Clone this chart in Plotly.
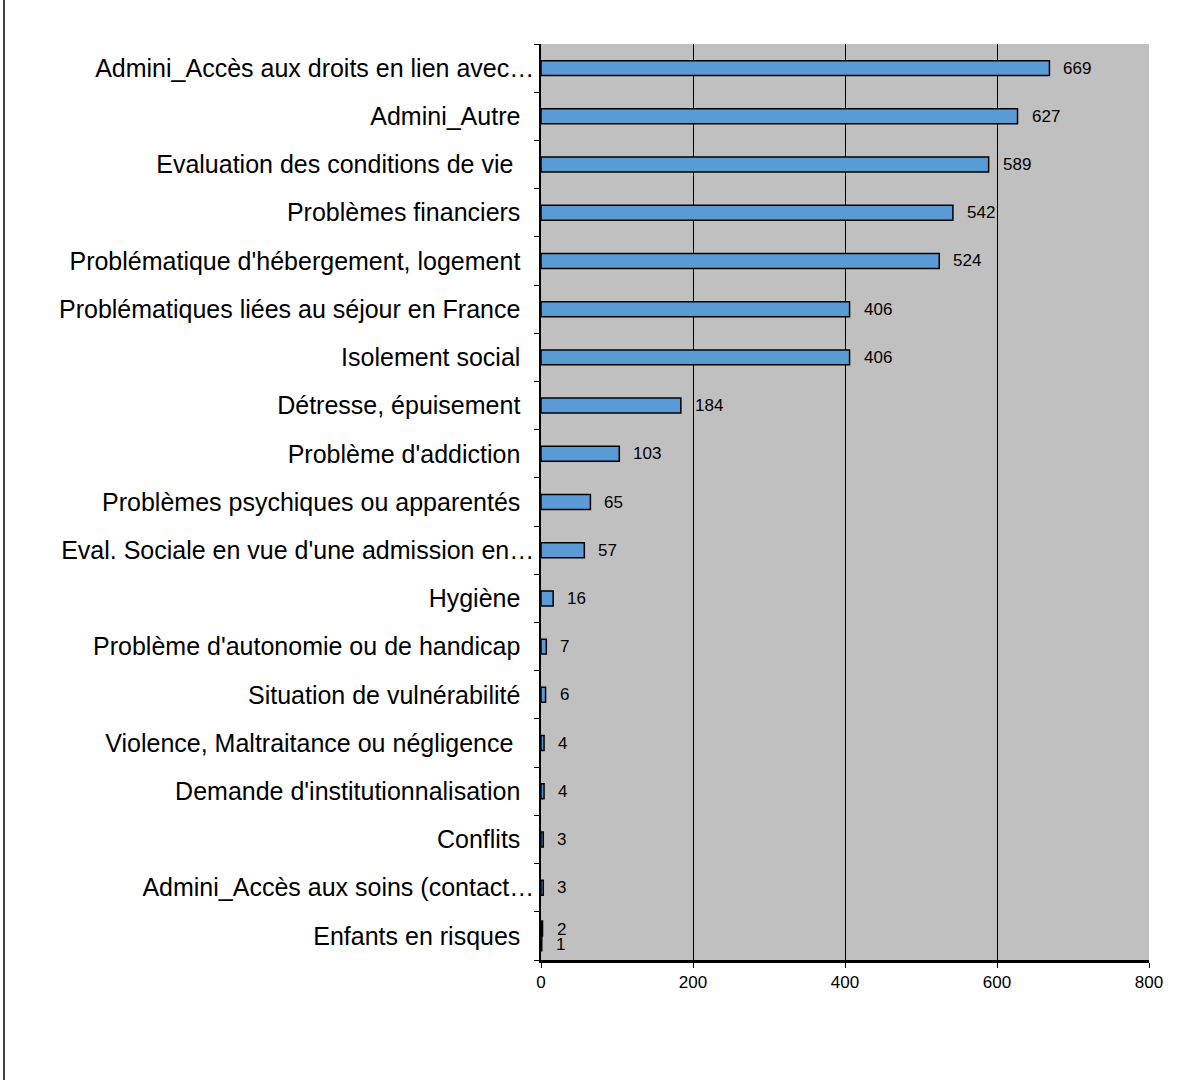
import plotly.graph_objects as go

categories = [
    "Admini_Accès aux droits en lien avec…",
    "Admini_Autre",
    "Evaluation des conditions de vie ",
    "Problèmes financiers",
    "Problématique d'hébergement, logement",
    "Problématiques liées au séjour en France",
    "Isolement social",
    "Détresse, épuisement",
    "Problème d'addiction",
    "Problèmes psychiques ou apparentés",
    "Eval. Sociale en vue d'une admission en…",
    "Hygiène",
    "Problème d'autonomie ou de handicap",
    "Situation de vulnérabilité",
    "Violence, Maltraitance ou négligence ",
    "Demande d'institutionnalisation",
    "Conflits",
    "Admini_Accès aux soins (contact…",
    "Enfants en risques",
]
values = [669, 627, 589, 542, 524, 406, 406, 184, 103, 65, 57, 16, 7, 6, 4, 4, 3, 3, 2]
extra_category = ["Enfants en risques"]
extra_values = [1]
x_ticks = [0, 200, 400, 600, 800]

FONT = "Liberation Sans, Arial, sans-serif"
truncated = {c for c in categories if c.endswith("…")}
def pad(c):
    if c in truncated:
        return c
    s = c.rstrip()
    n = 2 + (1 if c.endswith(" ") else 0) * 1
    return s + "\u00a0" * n

tick_text = [pad(c) for c in categories]

BAR_W = 0.31
offsets = [-BAR_W / 2] * len(categories)
offsets[-1] = -BAR_W
fig = go.Figure()
fig.add_trace(go.Bar(
    y=categories, x=values, orientation="h",
    width=BAR_W, offset=offsets,
    marker=dict(color="#5B9BD5", line=dict(color="black", width=1.5)),
    hoverinfo="x+y",
))
fig.add_trace(go.Bar(
    y=extra_category, x=extra_values, orientation="h",
    width=BAR_W, offset=0,
    marker=dict(color="#5B9BD5", line=dict(color="black", width=1.5)),
))

for c, v in zip(categories, values):
    ys = 6 if c == extra_category[0] else 0
    fig.add_annotation(x=v, y=c, text=str(v), showarrow=False, xanchor="left",
                       xshift=12, yshift=ys, font=dict(size=17, color="black", family=FONT))
for c, v in zip(extra_category, extra_values):
    fig.add_annotation(x=v, y=c, text=str(v), showarrow=False, xanchor="left",
                       xshift=12, yshift=-9, font=dict(size=17, color="black", family=FONT))

ML, MR, MT, MB = 541, 44, 44, 120
PW = 1193 - ML - MR
PH = 1080 - MT - MB
fig.add_shape(type="line", xref="paper", yref="paper",
              x0=(4 - ML) / PW, x1=(4 - ML) / PW, y0=-MB / PH, y1=(PH + MT) / PH,
              line=dict(color="black", width=1.5))

fig.update_layout(
    width=1193, height=1080,
    margin=dict(l=ML, r=MR, t=MT, b=MB),
    paper_bgcolor="white", plot_bgcolor="#C0C0C0",
    showlegend=False, barmode="overlay",
    font=dict(family=FONT, color="black"),
)
fig.update_xaxes(
    range=[0, 800], tickvals=x_ticks, ticktext=[str(t) for t in x_ticks],
    showgrid=True, gridcolor="black", gridwidth=1,
    showline=True, linecolor="black", linewidth=2.5,
    ticks="outside", ticklen=5, tickcolor="black",
    tickfont=dict(size=17), zeroline=False, fixedrange=True,
)
fig.update_yaxes(
    type="category", categoryorder="array", categoryarray=categories,
    autorange="reversed", tickvals=categories, ticktext=tick_text,
    showline=True, linecolor="black", linewidth=1.5,
    ticks="outside", ticklen=5, tickcolor="black", tickson="boundaries",
    tickfont=dict(size=25), ticklabelstandoff=0, showgrid=False,
)

fig.write_html("out.html")
